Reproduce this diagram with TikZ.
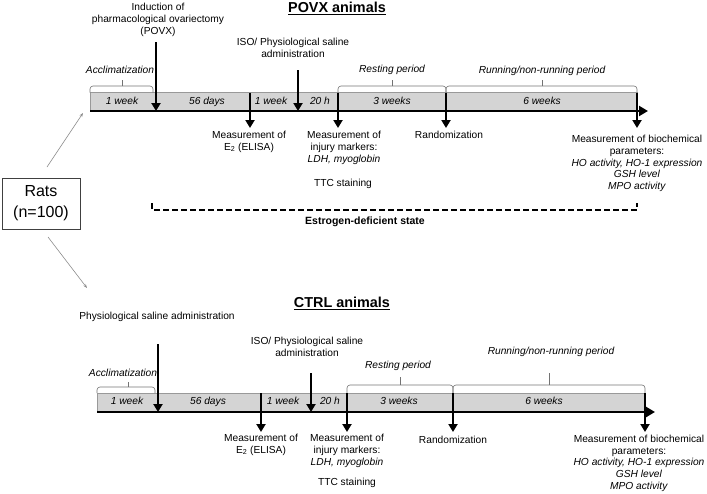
\documentclass[tikz,border=0pt]{standalone}
\usepackage{fontspec}
\setmainfont{Liberation Sans}
\usetikzlibrary{arrows.meta}
\newcommand\lblfont{\fontsize{10.2}{12}\selectfont}
\newcommand\biofont{\fontsize{10.2}{11.7}\selectfont}
\begin{document}
\begin{tikzpicture}[x=1pt,y=-1pt,
  every node/.style={inner sep=0pt, outer sep=0pt, align=center, font=\lblfont},
  bar/.style={fill=black!17, draw=black!40, line width=0.5pt},
  axis/.style={line width=2.6pt, -{Triangle[width=10pt,length=9pt]}},
  event/.style={line width=2.6pt, -{Triangle[width=9pt,length=8pt]}},
  inbar/.style={font=\lblfont\itshape, anchor=base},
  period/.style={font=\lblfont\itshape, anchor=base},
  brk/.style={draw=black!55, line width=0.6pt, rounded corners=3pt},
  ttl/.style={font=\fontsize{14.4}{17}\selectfont\bfseries},
  uline/.style={line width=1.2pt},
  desc/.style={anchor=north},
  bio/.style={anchor=north, font=\biofont},
  split/.style={draw=black!45, line width=0.6pt, -{Stealth[length=4pt,width=3pt]}},
  estro/.style={line width=1.5pt, dash pattern=on 6pt off 3pt}
]
\useasboundingbox (0,0) rectangle (707,493);

% ---------------- Rats ----------------
\node[draw=black!75, line width=0.8pt, minimum width=78pt, minimum height=51pt,
      font=\fontsize{16}{21}\selectfont] (rats) at (41,203.5) {Rats\\(n=100)};
\coordinate (r1s) at (47,167);
\coordinate (r1e) at (83,113);
\coordinate (r2s) at (48,237);
\coordinate (r2e) at (87,288);
\draw[split] (r1s) -- (r1e);
\draw[split] (r2s) -- (r2e);

% ---------------- POVX ----------------
\node[ttl] (t1) at (337,7.5) {POVX animals};
\draw[uline] ([yshift=-2pt]t1.south west) -- ([yshift=-2pt]t1.south east);

\draw[bar] (90,92.5) rectangle (637,111);
\coordinate (p0) at (90,111);
\coordinate (pend) at (648,111);
\draw[axis] (p0) -- (pend);

\node[inbar] (pw1) at (122,104.8) {1 week};
\node[inbar] (pd56) at (207,104.8) {56 days};
\node[inbar] (pw2) at (271,104.8) {1 week};
\node[inbar] (ph20) at (320,104.8) {20 h};
\node[inbar] (pw3) at (392,104.8) {3 weeks};
\node[inbar] (pw6) at (542,104.8) {6 weeks};

\draw[brk] (90,92.5) -- (90,86) -- (153,86) -- (153,92.5);
\draw[draw=black!55, line width=0.6pt] (122,86) -- (122,80);
\draw[brk] (338,92.5) -- (338,86) -- (446,86) -- (446,92.5);
\draw[draw=black!55, line width=0.6pt] (392,86) -- (392,80);
\draw[brk] (446,92.5) -- (446,86) -- (637,86) -- (637,92.5);
\draw[draw=black!55, line width=0.6pt] (542,86) -- (542,80);

\node[period] (pacc) at (120,73.6) {Acclimatization};
\node[period] (prest) at (392,72.8) {Resting period};
\node[period] (prun) at (542,73.4) {Running/non-running period};

\node[desc] (pind) at (158,3.5) {Induction of\\pharmacological ovariectomy\\(POVX)};
\node[desc] (piso) at (293,38.5) {ISO/ Physiological saline\\administration};

\coordinate (pa1s) at (156,42);   \coordinate (pa1e) at (156,111);
\coordinate (pa2s) at (250,92.5); \coordinate (pa2e) at (250,128);
\coordinate (pa3s) at (298,70);   \coordinate (pa3e) at (298,111);
\coordinate (pa4s) at (338,92.5); \coordinate (pa4e) at (338,128);
\coordinate (pa5s) at (446,92.5); \coordinate (pa5e) at (446,128);
\coordinate (pa6s) at (637,92.5); \coordinate (pa6e) at (637,128);
\draw[event] (pa1s) -- (pa1e);
\draw[event] (pa2s) -- (pa2e);
\draw[event] (pa3s) -- (pa3e);
\draw[event] (pa4s) -- (pa4e);
\draw[event] (pa5s) -- (pa5e);
\draw[event] (pa6s) -- (pa6e);

\node[desc] (pe2) at (249,131) {Measurement of\\E\textsubscript{2} (ELISA)};
\node[desc] (pinj) at (344,131) {Measurement of\\injury markers:\\\textit{LDH, myoglobin}};
\node[desc] (pttc) at (343,179) {TTC staining};
\node[desc] (prand) at (449,131) {Randomization};
\node[bio] (pbio) at (637,135.5) {Measurement of biochemical\\parameters:\\\textit{HO activity, HO-1 expression}\\\textit{GSH level}\\\textit{MPO activity}};

\draw[estro] (152,203) -- (152,210) -- (637,210) -- (637,203);
\node[font=\fontsize{10.5}{12}\selectfont\bfseries] (est) at (365,222) {Estrogen-deficient state};

% ---------------- CTRL ----------------
\node[ttl] (t2) at (342,302) {CTRL animals};
\draw[uline] ([yshift=-2pt]t2.south west) -- ([yshift=-2pt]t2.south east);

\draw[bar] (97,393) rectangle (645,412);
\coordinate (c0) at (97,412);
\coordinate (cend) at (655,412);
\draw[axis] (c0) -- (cend);

\node[inbar] (cw1) at (127,404.6) {1 week};
\node[inbar] (cd56) at (208,404.6) {56 days};
\node[inbar] (cw2) at (283,404.6) {1 week};
\node[inbar] (ch20) at (330,404.6) {20 h};
\node[inbar] (cw3) at (399,404.6) {3 weeks};
\node[inbar] (cw6) at (544,404.6) {6 weeks};

\draw[brk] (97,393) -- (97,387) -- (155,387) -- (155,393);
\draw[draw=black!55, line width=0.6pt] (128,387) -- (128,382);
\draw[brk] (347,393) -- (347,385) -- (453,385) -- (453,393);
\draw[draw=black!55, line width=0.6pt] (400,385) -- (400,377);
\draw[brk] (453,393) -- (453,385) -- (645,385) -- (645,393);
\draw[draw=black!55, line width=0.6pt] (549,385) -- (549,373);

\node[period] (cacc) at (123,376.6) {Acclimatization};
\node[period] (crest) at (398,368.6) {Resting period};
\node[period] (crun) at (551,354.6) {Running/non-running period};

\node[desc] (csal) at (157,312) {Physiological saline administration};
\node[desc] (ciso) at (307,337) {ISO/ Physiological saline\\administration};

\coordinate (ca1s) at (158,344);  \coordinate (ca1e) at (158,412);
\coordinate (ca2s) at (261,393);  \coordinate (ca2e) at (261,432);
\coordinate (ca3s) at (311,373);  \coordinate (ca3e) at (311,412);
\coordinate (ca4s) at (347,393);  \coordinate (ca4e) at (347,432);
\coordinate (ca5s) at (453,393);  \coordinate (ca5e) at (453,432);
\coordinate (ca6s) at (645,393);  \coordinate (ca6e) at (645,432);
\draw[event] (ca1s) -- (ca1e);
\draw[event] (ca2s) -- (ca2e);
\draw[event] (ca3s) -- (ca3e);
\draw[event] (ca4s) -- (ca4e);
\draw[event] (ca5s) -- (ca5e);
\draw[event] (ca6s) -- (ca6e);

\node[desc] (ce2) at (261,434) {Measurement of\\E\textsubscript{2} (ELISA)};
\node[desc] (cinj) at (347,434) {Measurement of\\injury markers:\\\textit{LDH, myoglobin}};
\node[desc] (cttc) at (347,478.5) {TTC staining};
\node[desc] (crand) at (453,436) {Randomization};
\node[bio] (cbio) at (639,435) {Measurement of biochemical\\parameters:\\\textit{HO activity, HO-1 expression}\\\textit{GSH level}\\\textit{MPO activity}};
\end{tikzpicture}
\end{document}
